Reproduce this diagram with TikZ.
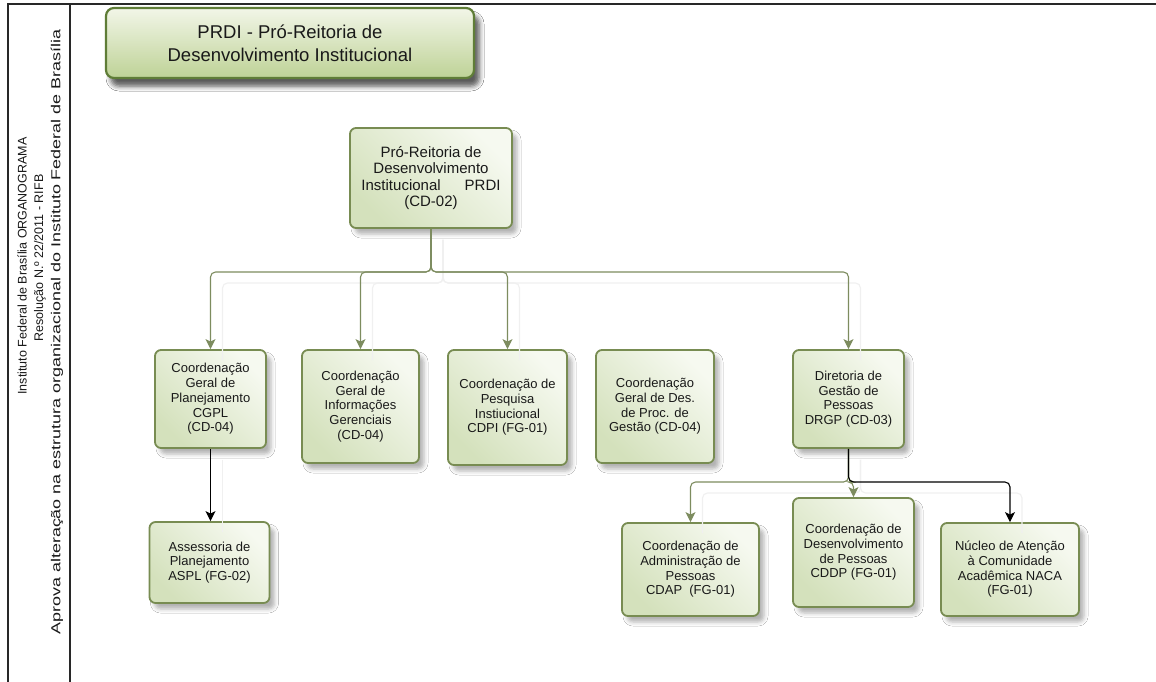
\documentclass[tikz,border=0pt]{standalone}
\usepackage{fontspec}
\setmainfont{Liberation Sans}
\usetikzlibrary{arrows.meta,shadows.blur,calc}
\definecolor{bord}{RGB}{120,140,82}
\definecolor{connc}{RGB}{125,140,95}
\definecolor{fillA}{RGB}{212,225,188}
\definecolor{fillB}{RGB}{246,249,240}
\definecolor{tfillA}{RGB}{190,210,150}
\definecolor{tfillB}{RGB}{242,246,232}
\definecolor{tbord}{RGB}{95,125,55}
\definecolor{txt}{RGB}{25,25,25}
\definecolor{framec}{RGB}{40,40,40}
\begin{document}
\begin{tikzpicture}[x=1pt,y=-1pt,
  orgbox/.style={draw=bord, line width=1.8pt, rounded corners=6pt,
    bottom color=fillA, top color=fillB, shading angle=-45,
    text=txt, align=center, inner sep=0pt,
    font=\fontsize{13}{14.7}\selectfont,
    blur shadow={shadow xshift=5pt, shadow yshift=-6pt, shadow blur radius=4pt, shadow opacity=30}},
  titlebox/.style={orgbox, draw=tbord, line width=2.2pt, rounded corners=8pt,
    bottom color=tfillA, top color=tfillB,
    font=\fontsize{18.5}{23}\selectfont,
    blur shadow={shadow xshift=5pt, shadow yshift=-8pt, shadow blur radius=5pt, shadow opacity=40}},
  conn/.style={draw=connc, line width=1.1pt, rounded corners=5pt,
    -{Stealth[length=10pt,width=10pt,inset=2.5pt]}},
  connk/.style={conn, draw=black},
  cshadow/.style={draw=black!6, line width=1.1pt, rounded corners=5pt,
    transform canvas={shift={(12pt,-11pt)}}},
  frame/.style={draw=framec, line width=1.3pt},
  vtext/.style={rotate=90, text=txt, font=\fontsize{12.5}{14}\selectfont, inner sep=0pt}
]
\useasboundingbox (0,0) rectangle (1156,682);
\fill[white] (0,0) rectangle (1156,682);

% frame
\draw[frame] (8,682) -- (8,4) -- (1156,4);
\draw[frame] (70,4) -- (70,682);

% vertical texts
\node[vtext] (v1) at (22,266) {Instituto Federal de Brasília ORGANOGRAMA};
\node[vtext] (v2) at (40,258) {Resolução N.º 22/2011 - RIFB};
\node[vtext, font=\fontsize{13}{14}\selectfont] (v3) at (57,332)
  {\scalebox{1.38}[1]{Aprova alteração na estrutura organizacional do Instituto Federal de Brasília}};

% title
\node[titlebox, minimum width=368pt, minimum height=70pt] (title) at (290,43)
  {PRDI - Pró-Reitoria de\\Desenvolvimento Institucional};

% boxes
\node[orgbox, minimum width=162pt, minimum height=100pt, font=\fontsize{15}{16.5}\selectfont] (prdi) at (431,178)
  {Pró-Reitoria de\\Desenvolvimento\\Institucional\hspace{24pt}PRDI\\(CD-02)};
\node[orgbox, minimum width=111pt, minimum height=98pt] (cgpl) at (210.5,399)
  {Coordenação\\Geral de\\Planejamento\\CGPL\\(CD-04)};
\node[orgbox, minimum width=117pt, minimum height=113pt] (cgig) at (360.5,406.5)
  {Coordenação\\Geral de\\Informações\\Gerenciais\\(CD-04)};
\node[orgbox, minimum width=119pt, minimum height=115pt] (cdpi) at (507.5,407.5)
  {Coordenação de\\Pesquisa\\Instiucional\\CDPI (FG-01)};
\node[orgbox, minimum width=118pt, minimum height=113pt] (cgdpg) at (655,406.5)
  {Coordenação\\Geral de Des.\\de Proc. de\\Gestão (CD-04)};
\node[orgbox, minimum width=111pt, minimum height=98pt] (drgp) at (848.5,399)
  {Diretoria de\\Gestão de\\Pessoas\\DRGP (CD-03)};
\node[orgbox, minimum width=120pt, minimum height=81pt] (aspl) at (209.5,562.5)
  {Assessoria de\\Planejamento\\ASPL (FG-02)};
\node[orgbox, minimum width=137pt, minimum height=93pt] (cdap) at (690.5,569.5)
  {Coordenação de\\Administração de\\Pessoas\\CDAP\ \ (FG-01)};
\node[orgbox, minimum width=121pt, minimum height=109pt] (cddp) at (853.5,552.5)
  {Coordenação de\\Desenvolvimento\\de Pessoas\\CDDP (FG-01)};
\node[orgbox, minimum width=138pt, minimum height=93pt] (naca) at (1010,569.5)
  {Núcleo de Atenção\\à Comunidade\\Acadêmica NACA\\(FG-01)};

% hubs
\coordinate (hub) at (prdi.south |- 0,272);
\coordinate (hub2) at (drgp.south |- 0,482);

% connector shadows
\draw[cshadow] (prdi.south) |- (cgpl.north |- hub) -- (cgpl.north);
\draw[cshadow] (prdi.south) |- (cgig.north |- hub) -- (cgig.north);
\draw[cshadow] (prdi.south) |- (cdpi.north |- hub) -- (cdpi.north);
\draw[cshadow] (prdi.south) |- (drgp.north |- hub) -- (drgp.north);
\draw[cshadow] (cgpl.south) -- (aspl.north -| cgpl.south);
\draw[cshadow] (drgp.south) |- (cdap.north |- hub2) -- (cdap.north);
\draw[cshadow] (drgp.south) |- (naca.north |- hub2) -- (naca.north);

% connectors
\draw[conn] (prdi.south) |- (cgpl.north |- hub) -- (cgpl.north);
\draw[conn] (prdi.south) |- (cgig.north |- hub) -- (cgig.north);
\draw[conn] (prdi.south) |- (cdpi.north |- hub) -- (cdpi.north);
\draw[conn] (prdi.south) |- (drgp.north |- hub) -- (drgp.north);
\draw[connk] (cgpl.south) -- (aspl.north -| cgpl.south);
\draw[conn] (drgp.south) |- (cdap.north |- hub2) -- (cdap.north);
\draw[conn] (drgp.south) |- (cddp.north |- hub2) -- (cddp.north);
\draw[connk] (drgp.south) |- (naca.north |- hub2) -- (naca.north);
\end{tikzpicture}
\end{document}
